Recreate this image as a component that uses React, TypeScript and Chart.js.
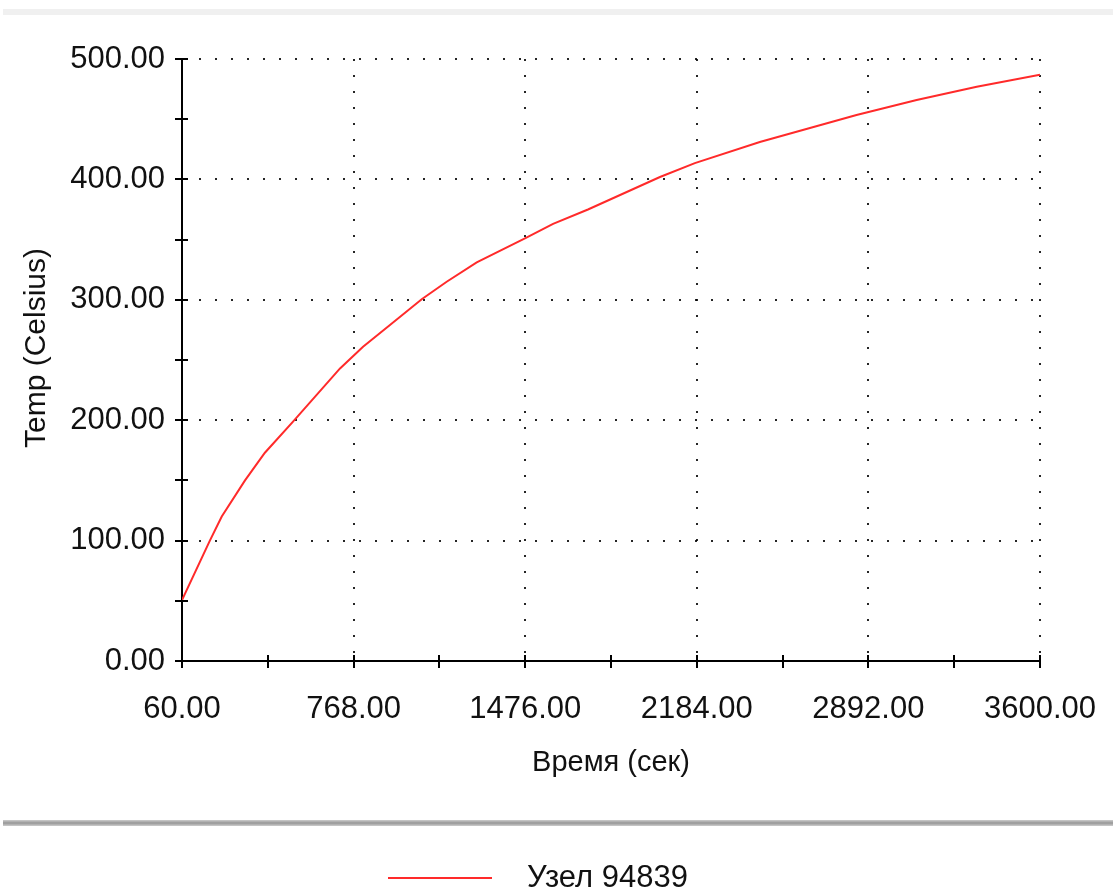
import React, { useEffect, useRef } from "react";
import { Chart, registerables } from "chart.js";

Chart.register(...registerables);

const seriesLabel = "Узел 94839";
const timeValues = [60, 175, 224, 320, 402, 519, 712, 807, 918, 1049, 1152, 1276, 1475, 1591, 1735, 2032, 2176, 2444, 2843, 3091, 3339, 3600];
const tempValues = [50.5, 100, 120, 150, 173, 199, 243, 261, 279, 300.5, 315, 331, 351, 363, 375, 402, 413.5, 431, 453.5, 466, 477, 487];
const xMajorTicks = [60, 768, 1476, 2184, 2892, 3600];
const yMin = 0;
const yMax = 500;
const yStep = 50;
const xTitle = "Время (сек)";
const yTitle = "Temp (Celsius)";

const FONT = '"Liberation Sans", Arial, sans-serif';
const DOTS = [2, 14];

const xAllTicks: number[] = [];
for (let i = 0; i < xMajorTicks.length; i++) {
  xAllTicks.push(xMajorTicks[i]);
  if (i < xMajorTicks.length - 1) xAllTicks.push((xMajorTicks[i] + xMajorTicks[i + 1]) / 2);
}

const decorPlugin = {
  id: "decor",
  beforeDraw(chart: any) {
    const ctx = chart.ctx;
    ctx.save();
    ctx.fillStyle = "#f0f0f0";
    ctx.fillRect(3, 9, chart.width - 3, 6);
    ctx.fillStyle = "#c4c4c4";
    ctx.fillRect(3, 820, chart.width - 3, 6);
    ctx.fillStyle = "#a0a0a0";
    ctx.fillRect(3, 821.5, chart.width - 3, 3);
    ctx.restore();
  },
  afterDraw(chart: any) {
    const ctx = chart.ctx;
    const xs = chart.scales.x;
    const ys = chart.scales.y;
    ctx.save();
    ctx.strokeStyle = "#000";
    ctx.lineWidth = 2;
    ctx.beginPath();
    ys.ticks.forEach((t: any) => {
      const p = Math.round(ys.getPixelForValue(t.value));
      ctx.moveTo(xs.left - 7, p);
      ctx.lineTo(xs.left + 6, p);
    });
    xs.ticks.forEach((t: any) => {
      const p = Math.round(xs.getPixelForValue(t.value));
      ctx.moveTo(p, ys.bottom - 6);
      ctx.lineTo(p, ys.bottom + 7);
    });
    ctx.stroke();
    // y-axis title
    ctx.save();
    ctx.translate(37, 348);
    ctx.rotate(-Math.PI / 2);
    ctx.fillStyle = "#111";
    ctx.font = `30px ${FONT}`;
    ctx.textAlign = "center";
    ctx.textBaseline = "middle";
    ctx.fillText(yTitle, 0, 0);
    ctx.restore();
    // legend
    const ds = chart.data.datasets[0];
    ctx.strokeStyle = ds.borderColor;
    ctx.lineWidth = 2;
    ctx.beginPath();
    ctx.moveTo(388, 878);
    ctx.lineTo(492, 878);
    ctx.stroke();
    ctx.fillStyle = "#111";
    ctx.font = `31px ${FONT}`;
    ctx.textBaseline = "middle";
    ctx.textAlign = "left";
    ctx.fillText(ds.label, 527, 878);
    ctx.restore();
  },
};

export default function App() {
  const ref = useRef<HTMLCanvasElement | null>(null);
  useEffect(() => {
    document.body.style.margin = "0";
    const canvas = ref.current!;
    const chart = new Chart(canvas, {
      type: "line",
      data: {
        datasets: [
          {
            label: seriesLabel,
            data: timeValues.map((t, i) => ({ x: t, y: tempValues[i] })),
            borderColor: "#ff2a2a",
            borderWidth: 2,
            pointRadius: 0,
            tension: 0,
            fill: false,
          },
        ],
      },
      options: {
        animation: false,
        responsive: false,
        maintainAspectRatio: false,
        layout: { padding: { top: 59, right: 73, bottom: 100, left: 0 } },
        plugins: { legend: { display: false }, tooltip: { enabled: false } },
        scales: {
          x: {
            type: "linear",
            min: xMajorTicks[0],
            max: xMajorTicks[xMajorTicks.length - 1],
            afterBuildTicks: (scale: any) => {
              scale.ticks = xAllTicks.map((v) => ({ value: v }));
            },
            afterFit: (scale: any) => {
              scale.height = 129;
            },
            ticks: {
              autoSkip: false,
              maxRotation: 0,
              padding: 9,
              color: "#111",
              font: { family: FONT, size: 31 },
              callback: (v: any) => (xMajorTicks.includes(Number(v)) ? Number(v).toFixed(2) : ""),
            },
            grid: {
              drawTicks: true,
              tickLength: 21,
              tickColor: "rgba(0,0,0,0)",
              lineWidth: 2,
              color: (c: any) => (c.tick && xMajorTicks.includes(c.tick.value) ? "rgba(0,0,0,0.85)" : "rgba(0,0,0,0)"),
            },
            border: { display: true, color: "#000", width: 2, dash: DOTS } as any,
            title: {
              display: true,
              text: xTitle,
              color: "#111",
              font: { family: FONT, size: 29 },
              padding: { top: 0, bottom: 10 },
            },
          },
          y: {
            type: "linear",
            min: yMin,
            max: yMax,
            afterFit: (scale: any) => {
              scale.width = 182;
            },
            ticks: {
              stepSize: yStep,
              padding: 17,
              color: "#111",
              font: { family: FONT, size: 31 },
              callback: (v: any) => (Number(v) % 100 === 0 ? Number(v).toFixed(2) : ""),
            },
            grid: {
              drawTicks: false,
              lineWidth: 2,
              color: (c: any) => (c.tick && c.tick.value % 100 === 0 ? "rgba(0,0,0,0.85)" : "rgba(0,0,0,0)"),
            },
            border: { display: true, color: "#000", width: 2, dash: DOTS } as any,
            title: { display: false, text: yTitle },
          },
        },
      } as any,
      plugins: [decorPlugin],
    });
    return () => chart.destroy();
  }, []);
  return (
    <div style={{ position: "absolute", left: 0, top: 0, width: 1113, height: 890 }}>
      <canvas ref={ref} width={1113} height={890} style={{ width: 1113, height: 890, display: "block" }} />
    </div>
  );
}
